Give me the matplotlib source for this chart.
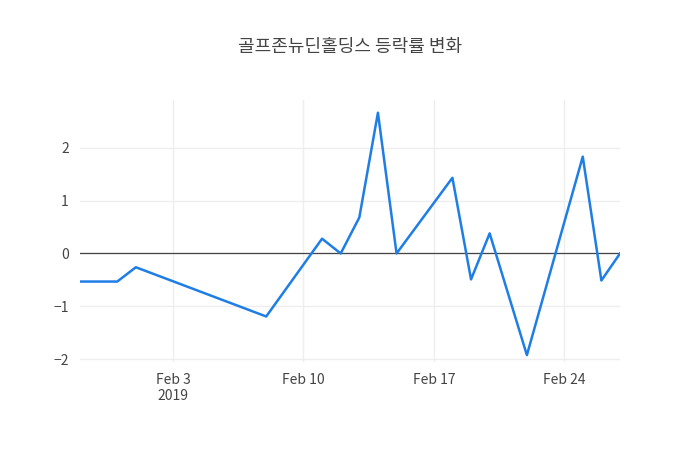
import matplotlib
matplotlib.use("Agg")
import matplotlib.pyplot as plt
import pandas as pd

dates = ["2019-01-29","2019-01-31","2019-02-01","2019-02-08","2019-02-11","2019-02-12",
         "2019-02-13","2019-02-14","2019-02-15","2019-02-18","2019-02-19","2019-02-20",
         "2019-02-22","2019-02-25","2019-02-26","2019-02-27"]
values = [-0.53,-0.53,-0.26,-1.19,0.28,0.0,0.68,2.66,0.0,1.43,-0.49,0.38,-1.92,1.83,-0.51,0.0]
title = "골프존뉴딘홀딩스 등락률 변화"

plt.rcParams['font.family'] = ['Noto Sans CJK KR', 'DejaVu Sans']
x = pd.to_datetime(dates)
fig = plt.figure(figsize=(7, 4.5), dpi=100)
ax = fig.add_axes([80/700, 88/450, 540/700, 262/450])
ax.plot(x, values, color="#1f7de6", lw=1.8, zorder=3)
ax.axhline(0, color="#444444", lw=0.9, zorder=2)
ax.set_xlim(x[0], x[-1])
ax.set_ylim(-2.05, 2.9)
ax.set_yticks([-2, -1, 0, 1, 2])
ax.set_yticklabels(["−2", "−1", "0", "1", "2"])
ticks = pd.to_datetime(["2019-02-03", "2019-02-10", "2019-02-17", "2019-02-24"])
ax.set_xticks(ticks)
ax.set_xticklabels(["Feb 3\n2019", "Feb 10", "Feb 17", "Feb 24"])
ax.grid(True, color="#eeeeee", lw=1, zorder=0)
for s in ax.spines.values():
    s.set_visible(False)
ax.tick_params(length=0, labelsize=10, colors="#444444", pad=8)
fig.suptitle(title, y=0.915, fontsize=13, color="#444444")
fig.savefig("out.png")
